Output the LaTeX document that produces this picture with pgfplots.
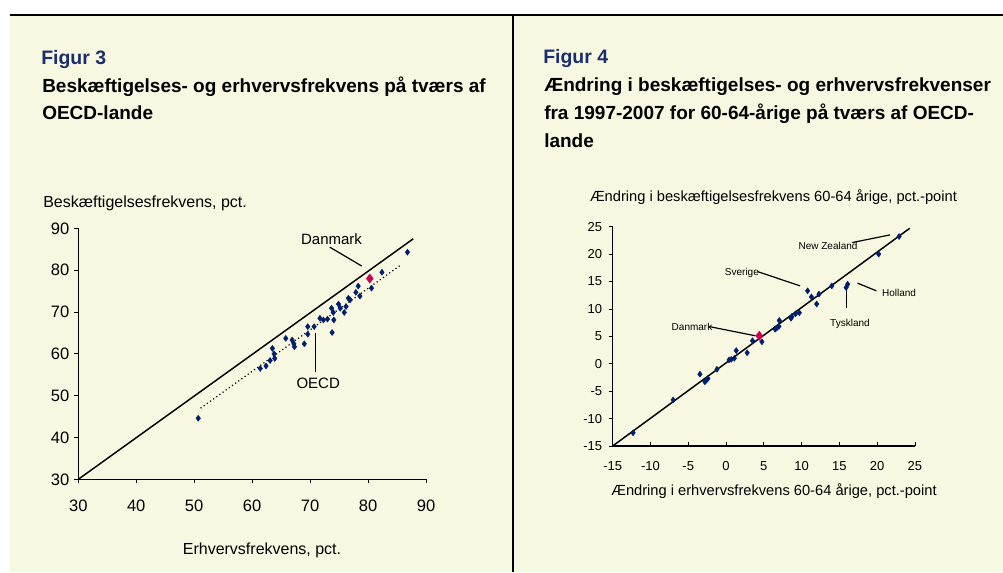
\documentclass[border=0pt]{standalone}
\usepackage{pgfplots}
\pgfplotsset{compat=1.18}
\usepackage{fontspec}
\setmainfont{Liberation Sans}
\definecolor{cream}{RGB}{248,248,226}
\definecolor{figblue}{RGB}{26,46,110}
\definecolor{ptblue}{RGB}{0,32,110}
\definecolor{dkred}{RGB}{204,0,80}

\begin{document}
\begin{tikzpicture}[x=0.75pt,y=0.75pt]
\useasboundingbox (0,0) rectangle (1003,572);
\fill[white] (0,0) rectangle (1003,572);
\fill[cream] (10,0) rectangle (1003,557);
\draw[line width=0.8pt] (10,557) -- (1003,557);
\draw[line width=0.9pt] (513,557) -- (513,0);

% titles left
\node[anchor=base west, inner sep=0, text=figblue, font=\fontsize{14.6}{17}\selectfont\bfseries] at (41,507.7) {Figur 3};
\node[anchor=base west, inner sep=0, font=\fontsize{14.25}{17}\selectfont\bfseries] at (42,479.3) {Beskæftigelses- og erhvervsfrekvens på tværs af};
\node[anchor=base west, inner sep=0, font=\fontsize{14.25}{17}\selectfont\bfseries] at (42,452) {OECD-lande};
% titles right
\node[anchor=base west, inner sep=0, text=figblue, font=\fontsize{14.6}{17}\selectfont\bfseries] at (543,508.7) {Figur 4};
\node[anchor=base west, inner sep=0, font=\fontsize{14.25}{17}\selectfont\bfseries] at (544,480.3) {Ændring i beskæftigelses- og erhvervsfrekvenser};
\node[anchor=base west, inner sep=0, font=\fontsize{14.25}{17}\selectfont\bfseries] at (544,452.7) {fra 1997-2007 for 60-64-årige på tværs af OECD-};
\node[anchor=base west, inner sep=0, font=\fontsize{14.25}{17}\selectfont\bfseries] at (544,424.3) {lande};

% axis labels left
\node[anchor=base west, inner sep=0, font=\fontsize{12}{14}\selectfont] at (43,364) {Beskæftigelsesfrekvens, pct.};
\node[anchor=base, inner sep=0, font=\fontsize{12}{14}\selectfont] at (262,18) {Erhvervsfrekvens, pct.};
% axis labels right
\node[anchor=base, inner sep=0, font=\fontsize{11}{13}\selectfont] at (773.5,370.3) {Ændring i beskæftigelsesfrekvens 60-64 årige, pct.-point};
\node[anchor=base, inner sep=0, font=\fontsize{11}{13}\selectfont] at (774,77) {Ændring i erhvervsfrekvens 60-64 årige, pct.-point};

\begin{axis}[
  at={(58.7pt,69.5pt)}, anchor=south west,
  scale only axis, width=260.8pt, height=188.25pt,
  xmin=30, xmax=90, ymin=30, ymax=90,
  xtick={30,40,...,90}, ytick={30,40,...,90},
  axis x line*=bottom, axis y line*=left,
  axis line style={line width=0.8pt},
  tick style={black, line width=0.6pt},
  tick align=outside, major tick length=3pt,
  ticklabel style={font=\fontsize{12.4}{14}\selectfont, inner sep=0pt},
  xticklabel style={anchor=base, yshift=-21.3pt},
  yticklabel style={anchor=east, xshift=-3.6pt},
  /pgf/number format/assume math mode=true,
  clip=false,
]
\addplot[black, line width=1.1pt] coordinates {(30,30) (87.8,87.5)};
\addplot[black, dotted, line width=0.9pt] coordinates {(51.1,47.0) (85.6,81.2)};
\addplot[only marks, mark=diamond*, mark size=2.2pt, ptblue] coordinates {
(50.7,44.6) (61.4,56.5) (62.4,57.1) (63.1,58.4) (63.5,61.3) (63.8,60.0)
(63.9,58.9) (65.8,63.7) (66.9,63.3) (67.2,62.4) (67.3,61.7) (69.0,62.4)
(69.6,66.5) (69.6,64.7) (70.7,66.5) (71.7,68.5) (72.3,68.1) (73.0,68.3)
(73.7,70.9) (73.8,65.1) (74.0,69.9) (74.1,68.1) (74.9,71.9) (75.2,70.9)
(75.9,69.9) (76.2,71.3) (76.6,73.3) (76.9,72.9) (77.9,74.7) (78.3,76.2)
(78.6,73.8) (80.6,75.7) (82.4,79.5) (86.8,84.3)
};
\addplot[only marks, mark=diamond*, mark size=3.4pt, dkred] coordinates {(80.3,78.0)};
\draw[line width=0.9pt] (axis cs:73.4,85.5) -- (axis cs:78.9,81.0);
\node[font=\fontsize{11.25}{13}\selectfont, inner sep=0] at (axis cs:73.7,87.4) {Danmark};
\draw[line width=0.9pt] (axis cs:70.9,64.9) -- (axis cs:70.9,55.7);
\node[font=\fontsize{11.25}{13}\selectfont, inner sep=0] at (axis cs:71.4,53.0) {OECD};
\end{axis}

\begin{axis}[
  at={(459.5pt,94.5pt)}, anchor=south west,
  scale only axis, width=226.7pt, height=164.5pt,
  xmin=-15, xmax=25, ymin=-15, ymax=25,
  xtick={-15,-10,...,25}, ytick={-15,-10,...,25},
  axis x line*=bottom, axis y line*=left,
  axis line style={line width=0.8pt},
  tick style={black, line width=0.6pt},
  tick align=inside, major tick length=3pt,
  ytick style={xshift=-3pt},
  ticklabel style={font=\fontsize{9.75}{12}\selectfont, inner sep=0pt},
  xticklabel style={anchor=base, yshift=-18pt},
  yticklabel style={anchor=east, xshift=-7.7pt},
  /pgf/number format/assume math mode=true,
  clip=false,
]
\addplot[black, line width=1.1pt] coordinates {(-15,-15) (24.3,24.7)};
\addplot[only marks, mark=diamond*, mark size=2.2pt, ptblue] coordinates {
(-12.3,-12.6) (-7.0,-6.6) (-3.45,-1.9) (-2.8,-3.3) (-2.6,-3.0) (-2.4,-2.7)
(-1.2,-1.0) (0.4,0.7) (0.7,0.8) (1.1,1.0) (1.35,2.4) (2.8,2.0) (3.5,4.2)
(4.75,4.0) (6.5,6.3) (6.7,6.5) (7.0,6.8) (7.05,7.9) (8.6,8.3) (8.7,8.6)
(9.2,9.1) (9.7,9.3) (10.8,13.3) (11.3,12.2) (12.0,10.9) (12.3,12.7)
(14.0,14.2) (15.9,13.9) (16.1,14.5) (20.2,20.0) (22.9,23.2)
};
\addplot[only marks, mark=diamond*, mark size=3.4pt, dkred] coordinates {(4.4,5.1)};
\draw[line width=0.9pt] (axis cs:16.7,22.1) -- (axis cs:21.7,23.5);
\node[font=\fontsize{7.5}{9}\selectfont, inner sep=0] at (axis cs:13.5,21.5) {New Zealand};
\draw[line width=0.9pt] (axis cs:4.2,16.8) -- (axis cs:9.8,14.2);
\node[font=\fontsize{7.5}{9}\selectfont, inner sep=0] at (axis cs:2.1,16.6) {Sverige};
\draw[line width=0.9pt] (axis cs:17.4,14.7) -- (axis cs:19.9,13.3);
\node[font=\fontsize{7.5}{9}\selectfont, inner sep=0] at (axis cs:22.9,13.0) {Holland};
\draw[line width=0.9pt] (axis cs:15.9,14.1) -- (axis cs:15.9,10.1);
\node[font=\fontsize{7.5}{9}\selectfont, inner sep=0] at (axis cs:16.4,7.2) {Tyskland};
\draw[line width=0.9pt] (axis cs:-2.3,6.8) -- (axis cs:3.9,5.1);
\node[font=\fontsize{7.5}{9}\selectfont, inner sep=0] at (axis cs:-4.5,6.8) {Danmark};
\end{axis}
\end{tikzpicture}
\end{document}
